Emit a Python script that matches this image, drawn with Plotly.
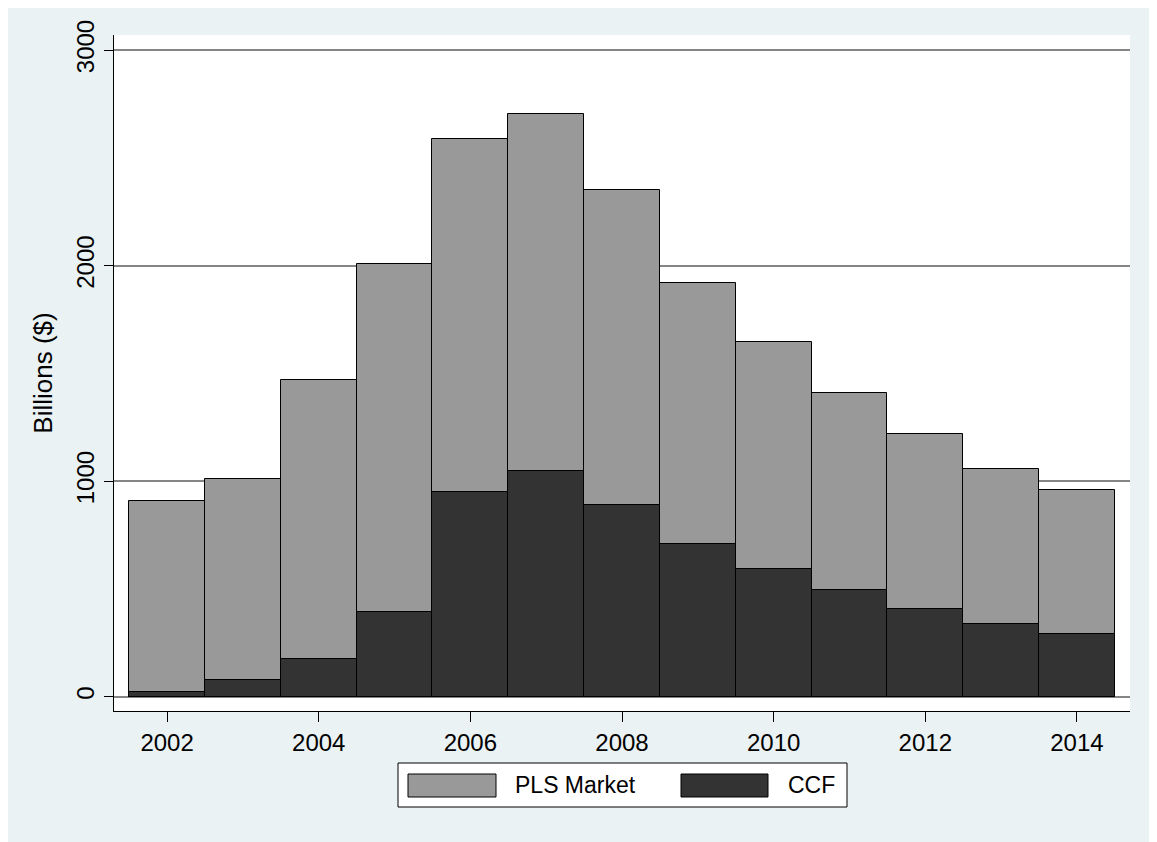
import plotly.graph_objects as go

years = [2002, 2003, 2004, 2005, 2006, 2007, 2008, 2009, 2010, 2011, 2012, 2013, 2014]
pls_market = [909, 1009, 1470, 2006, 2588, 2705, 2350, 1918, 1645, 1411, 1220, 1057, 958]
ccf = [20, 76, 175, 393, 950, 1046, 888, 707, 591, 494, 406, 337, 290]
x_ticks = [2002, 2004, 2006, 2008, 2010, 2012, 2014]
y_ticks = [0, 1000, 2000, 3000]
series_names = ["PLS Market", "CCF"]
series_colors = ["#999999", "#333333"]

BG = "#EAF2F3"
FONT = "Liberation Sans, Arial, sans-serif"

# plot area (figure coords): x 106..1122, y 27..703
L, T, R, B = 106, 27, 35, 139
PW, PH = 1157 - L - R, 842 - T - B

fig = go.Figure()
for name, vals, col in zip(series_names, [pls_market, ccf], series_colors):
    fig.add_trace(go.Bar(
        x=years, y=vals, name=name, width=1,
        marker=dict(color=col, line=dict(color="#000000", width=1)),
        showlegend=False,
    ))

fig.update_layout(
    width=1157, height=842,
    margin=dict(l=L, r=R, t=T, b=B),
    paper_bgcolor=BG, plot_bgcolor="#FFFFFF",
    barmode="overlay", bargap=0,
    font=dict(family=FONT, size=24, color="#000000"),
    xaxis=dict(
        range=[2001.30, 2014.70], tickmode="array", tickvals=x_ticks,
        ticktext=[str(v) for v in x_ticks],
        ticks="outside", ticklen=10, tickcolor="#000000", tickwidth=1,
        showline=True, linecolor="#000000", linewidth=1,
        showgrid=False, zeroline=False,
        tickfont=dict(size=24),
    ),
    yaxis=dict(
        range=[-66, 3070], tickmode="array", tickvals=y_ticks,
        ticktext=[str(v) for v in y_ticks],
        ticks="outside", ticklen=9, tickcolor="#000000", tickwidth=1,
        showline=True, linecolor="#000000", linewidth=1,
        showgrid=True, gridcolor="#858585", gridwidth=1.5,
        zeroline=False, tickangle=-90,
        tickfont=dict(size=24),
        title=dict(text="Billions ($)", font=dict(size=26), standoff=12),
    ),
)

def px(xf):
    return (xf - L) / PW

def py(yf):
    return 1 - (yf - T) / PH

# legend drawn with shapes + annotations (reference coords minus 8px page offset)
fig.add_shape(type="rect", xref="paper", yref="paper",
              x0=px(390), x1=px(839), y0=py(799), y1=py(755),
              fillcolor="#FFFFFF", line=dict(color="#000000", width=1))
swatches = [(400, 488, 505), (673, 760, 778)]
for (sx0, sx1, tx), name, col in zip(swatches, series_names, series_colors):
    fig.add_shape(type="rect", xref="paper", yref="paper",
                  x0=px(sx0), x1=px(sx1), y0=py(789), y1=py(766),
                  fillcolor=col, line=dict(color="#000000", width=1))
    fig.add_annotation(xref="paper", yref="paper", x=px(tx), y=py(777),
                       text=name, showarrow=False, xanchor="left", yanchor="middle",
                       font=dict(size=23, family=FONT, color="#000000"))

fig.write_html("out.html")
